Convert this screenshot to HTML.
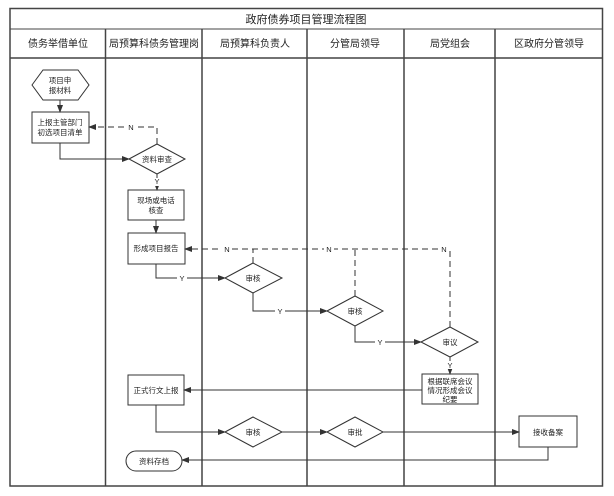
<!DOCTYPE html>
<html><head><meta charset="utf-8"><style>
html,body{margin:0;padding:0;background:#fff;}
svg{display:block;}
text{font-family:"Liberation Sans","Noto Sans CJK SC",sans-serif;fill:#222;}
</style></head><body>
<svg width="614" height="496" viewBox="0 0 614 496" xmlns="http://www.w3.org/2000/svg">
<defs>
<marker id="a" markerWidth="8" markerHeight="6" refX="7" refY="3" orient="auto" markerUnits="userSpaceOnUse">
<path d="M0,0 L8,3 L0,6 z" fill="#333"/></marker>
</defs>
<rect width="614" height="496" fill="#fff"/>
<!-- frame -->
<g stroke="#444" fill="none">
<rect x="10" y="8.5" width="592.5" height="477.5" stroke-width="1.5"/>
<line x1="10" y1="29" x2="602.5" y2="29" stroke-width="1"/>
<line x1="10" y1="58" x2="602.5" y2="58" stroke-width="1.5"/>
<line x1="105.5" y1="29" x2="105.5" y2="486" stroke-width="1.5"/>
<line x1="202" y1="29" x2="202" y2="486" stroke-width="1.5"/>
<line x1="307" y1="29" x2="307" y2="486" stroke-width="1.5"/>
<line x1="404" y1="29" x2="404" y2="486" stroke-width="1.5"/>
<line x1="495" y1="29" x2="495" y2="486" stroke-width="1.5"/>
</g>
<text x="306" y="23" font-size="11" text-anchor="middle">政府债券项目管理流程图</text>
<g font-size="10" text-anchor="middle">
<text x="58" y="47">债务举借单位</text>
<text x="154" y="47">局预算科债务管理岗</text>
<text x="255" y="47">局预算科负责人</text>
<text x="355" y="47">分管局领导</text>
<text x="450" y="47">局党组会</text>
<text x="549" y="47">区政府分管领导</text>
</g>
<!-- shapes -->
<g stroke="#333" fill="#fff" stroke-width="1">
<polygon points="32,85 43,70 78,70 89,85 78,100 43,100"/>
<rect x="32" y="112" width="57" height="31"/>
<polygon points="129,159 157,144 185,159 157,174"/>
<rect x="128" y="190" width="56" height="30"/>
<rect x="128" y="233" width="57" height="31"/>
<polygon points="225,278 253,263 282,278 253,293"/>
<polygon points="327,311 355,296 383,311 355,326"/>
<polygon points="421,342 450,327 478,342 450,357"/>
<rect x="422" y="374" width="56" height="30"/>
<rect x="128" y="375" width="56" height="30"/>
<polygon points="225,432 253,417 282,432 253,447"/>
<polygon points="327,432 355,417 383,432 355,447"/>
<rect x="519" y="416" width="58" height="31"/>
<rect x="126" y="451" width="56" height="20" rx="10"/>
</g>
<g font-size="7.5" text-anchor="middle">
<text x="60" y="83">项目申</text><text x="60" y="93">报材料</text>
<text x="60" y="125">上报主管部门</text><text x="60" y="135">初选项目清单</text>
<text x="157" y="162">资料审查</text>
<text x="156" y="203">现场或电话</text><text x="156" y="213">核查</text>
<text x="156" y="251">形成项目报告</text>
<text x="253" y="281">审核</text>
<text x="355" y="314">审核</text>
<text x="450" y="345">审议</text>
<text x="450" y="384">根据联席会议</text><text x="450" y="393">情况形成会议</text><text x="450" y="402">纪要</text>
<text x="156" y="393">正式行文上报</text>
<text x="253" y="435">审核</text>
<text x="355" y="435">审批</text>
<text x="548" y="435">接收备案</text>
<text x="154" y="464">资料存档</text>
</g>
<!-- solid connectors -->
<g stroke="#333" fill="none" stroke-width="1">
<line x1="60" y1="100" x2="60" y2="112" marker-end="url(#a)"/>
<polyline points="60,143 60,159 129,159" marker-end="url(#a)"/>
<line x1="157" y1="174" x2="157" y2="190" marker-end="url(#a)"/>
<line x1="156" y1="220" x2="156" y2="233" marker-end="url(#a)"/>
<polyline points="156,264 156,278 225,278" marker-end="url(#a)"/>
<polyline points="253,293 253,311 327,311" marker-end="url(#a)"/>
<polyline points="355,326 355,342 421,342" marker-end="url(#a)"/>
<line x1="450" y1="357" x2="450" y2="374" marker-end="url(#a)"/>
<line x1="422" y1="390" x2="184" y2="390" marker-end="url(#a)"/>
<polyline points="156,405 156,432 225,432" marker-end="url(#a)"/>
<line x1="282" y1="432" x2="327" y2="432" marker-end="url(#a)"/>
<line x1="383" y1="432" x2="519" y2="432" marker-end="url(#a)"/>
<polyline points="548,447 548,460 182,460" marker-end="url(#a)"/>
</g>
<!-- dashed connectors -->
<g stroke="#333" fill="none" stroke-width="1" stroke-dasharray="6,4">
<polyline points="157,144 157,127 89,127" marker-end="url(#a)"/>
<polyline points="450,327 450,249 185,249" marker-end="url(#a)"/>
<line x1="253" y1="263" x2="253" y2="249"/>
<line x1="355" y1="296" x2="355" y2="249"/>
</g>
<g font-size="7.5" text-anchor="middle">
<rect x="126" y="123" width="10" height="8" fill="#fff"/><text x="131" y="130">N</text>
<rect x="152" y="178" width="10" height="8" fill="#fff"/><text x="157" y="184">Y</text>
<rect x="222" y="245" width="10" height="8" fill="#fff"/><text x="227" y="252">N</text>
<rect x="324" y="245" width="10" height="8" fill="#fff"/><text x="329" y="252">N</text>
<rect x="439" y="245" width="10" height="8" fill="#fff"/><text x="444" y="252">N</text>
<rect x="177" y="274" width="10" height="8" fill="#fff"/><text x="182" y="281">Y</text>
<rect x="275" y="307" width="10" height="8" fill="#fff"/><text x="280" y="314">Y</text>
<rect x="375" y="338" width="10" height="8" fill="#fff"/><text x="380" y="345">Y</text>
<rect x="445" y="361" width="10" height="8" fill="#fff"/><text x="450" y="368">Y</text>
</g>
</svg>
</body></html>
